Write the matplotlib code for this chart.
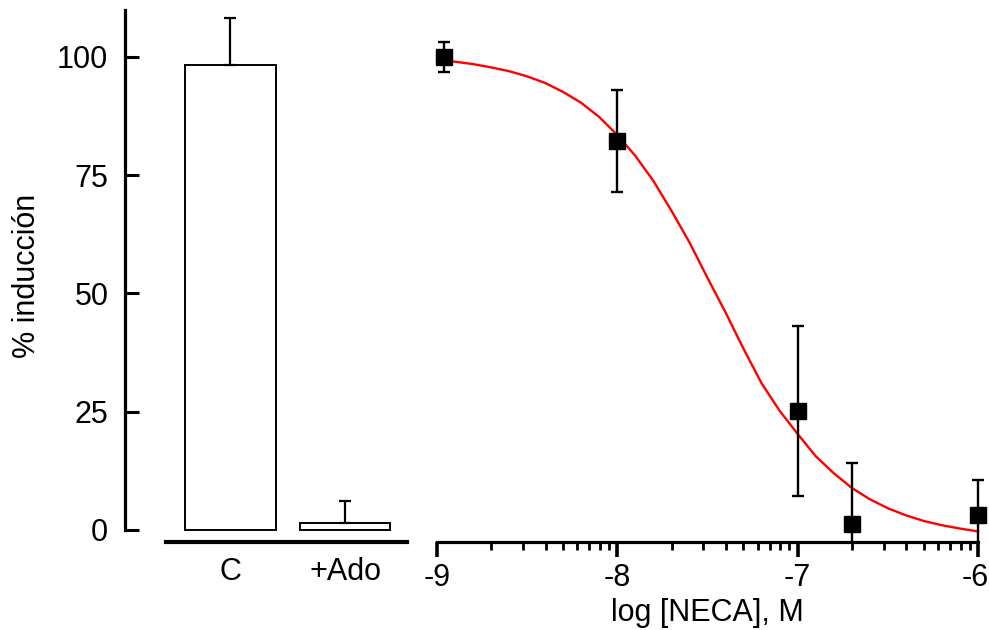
import matplotlib
matplotlib.use("Agg")
import matplotlib.pyplot as plt
from matplotlib.ticker import FixedLocator, NullFormatter
from matplotlib.transforms import ScaledTranslation

plt.rcParams['font.family'] = ['Liberation Sans', 'DejaVu Sans']
plt.rcParams['axes.unicode_minus'] = False

# ---- data ----
bar_labels = ['C', '+Ado']
bar_values = [98.3, 1.4]
bar_errors = [10.0, 4.8]

dose_conc = [1.1e-9, 1e-8, 1e-7, 2e-7, 1e-6]
dose_values = [100.0, 82.3, 25.2, 1.3, 3.1]
dose_errors = [3.2, 10.8, 18.0, 12.9, 7.5]

curve_logx = [-9.0, -8.9, -8.8, -8.7, -8.6, -8.5, -8.4, -8.3, -8.2, -8.1,
              -8.0, -7.9, -7.8, -7.7, -7.6, -7.5, -7.4, -7.3, -7.2, -7.1,
              -7.0, -6.9, -6.8, -6.7, -6.6, -6.5, -6.4, -6.3, -6.2, -6.1,
              -6.0]
curve_values = [99.3, 99.0, 98.5, 97.8, 97.0, 95.9, 94.5, 92.6, 90.3, 87.3,
                83.5, 79.1, 73.8, 67.5, 60.8, 53.3, 46.0, 38.3, 31.0, 25.2,
                20.3, 15.6, 12.0, 8.9, 6.5, 4.6, 3.1, 1.9, 1.0, 0.3,
                -0.3]

y_ticks = [0, 25, 50, 75, 100]
x_ticks_log = [-9, -8, -7, -6]
x_tick_labels = ['-9', '-8', '-7', '-6']

FS = 22
W, H = 989, 630
fig = plt.figure(figsize=(W / 100, H / 100), dpi=100)

ylo, yhi = -2.5, 110
y_bottom_px, y_top_px = 541.8, 9.7
ax_b = (H - y_bottom_px) / H
ax_h = (y_bottom_px - y_top_px) / H

# ---- left panel (bars) ----
axL = fig.add_axes([125 / W, ax_b, 282 / W, ax_h])
xpos = [0, 1]
axL.bar(xpos, bar_values, width=0.79, color='white', edgecolor='black',
        linewidth=1.4, zorder=2)
axL.errorbar(xpos, bar_values, yerr=[[0, 0], bar_errors], fmt='none',
             ecolor='black', elinewidth=1.6, capsize=4, capthick=1.6, zorder=3)
axL.set_xlim(-0.921, 1.541)
axL.set_ylim(ylo, yhi)
for s in ['top', 'right']:
    axL.spines[s].set_visible(False)
axL.spines['left'].set_bounds(0, 110)
axL.spines['left'].set_linewidth(2.3)
axL.spines['bottom'].set_bounds(-0.563, 1.541)
axL.spines['bottom'].set_linewidth(3)
axL.set_yticks(y_ticks)
axL.set_yticklabels([str(v) for v in y_ticks])
axL.tick_params(axis='y', direction='in', length=10, width=2.2, pad=12,
                labelsize=FS)
axL.set_xticks(xpos)
axL.set_xticklabels(bar_labels)
axL.tick_params(axis='x', length=0, pad=11, labelsize=FS)
axL.set_ylabel('% inducción', fontsize=FS, labelpad=11)

# ---- right panel (dose-response) ----
ppd = (978 - 437) / 3.0
xl_lo, xl_hi = -9.05, -5.95
left_px = 437 + (xl_lo + 9) * ppd
width_px = (xl_hi - xl_lo) * ppd
axR = fig.add_axes([left_px / W, ax_b, width_px / W, ax_h])
axR.set_xscale('log')
axR.set_xlim(10 ** xl_lo, 10 ** xl_hi)
axR.set_ylim(ylo, yhi)
axR.patch.set_alpha(0)

axR.plot([10 ** v for v in curve_logx], curve_values, color='red', lw=1.7,
         zorder=2)
axR.errorbar(dose_conc, dose_values, yerr=dose_errors, fmt='s', color='black',
             markersize=12, elinewidth=1.7, capsize=4.5, capthick=1.7,
             zorder=3)

for s in ['top', 'right', 'left']:
    axR.spines[s].set_visible(False)
axR.spines['bottom'].set_bounds(1e-9, 1e-6)
axR.spines['bottom'].set_linewidth(2.3)
axR.yaxis.set_visible(False)
axR.xaxis.set_major_locator(FixedLocator([10.0 ** v for v in x_ticks_log]))
axR.set_xticklabels(x_tick_labels)
minor_pos = [m * 10.0 ** d for d in x_ticks_log[:-1] for m in range(2, 10)]
axR.xaxis.set_minor_locator(FixedLocator(minor_pos))
axR.xaxis.set_minor_formatter(NullFormatter())
axR.tick_params(axis='x', which='major', direction='out', length=11, width=2.6,
                pad=4, labelsize=FS)
axR.tick_params(axis='x', which='minor', direction='out', length=5.5, width=2)
axR.set_xlabel('log [NECA], M', fontsize=FS, labelpad=4)

# nudge the last tick label so it stays inside the canvas
last = axR.get_xticklabels()[-1]
last.set_transform(last.get_transform() +
                   ScaledTranslation(-3 / 100, 0, fig.dpi_scale_trans))

fig.savefig('out.png', dpi=100)
